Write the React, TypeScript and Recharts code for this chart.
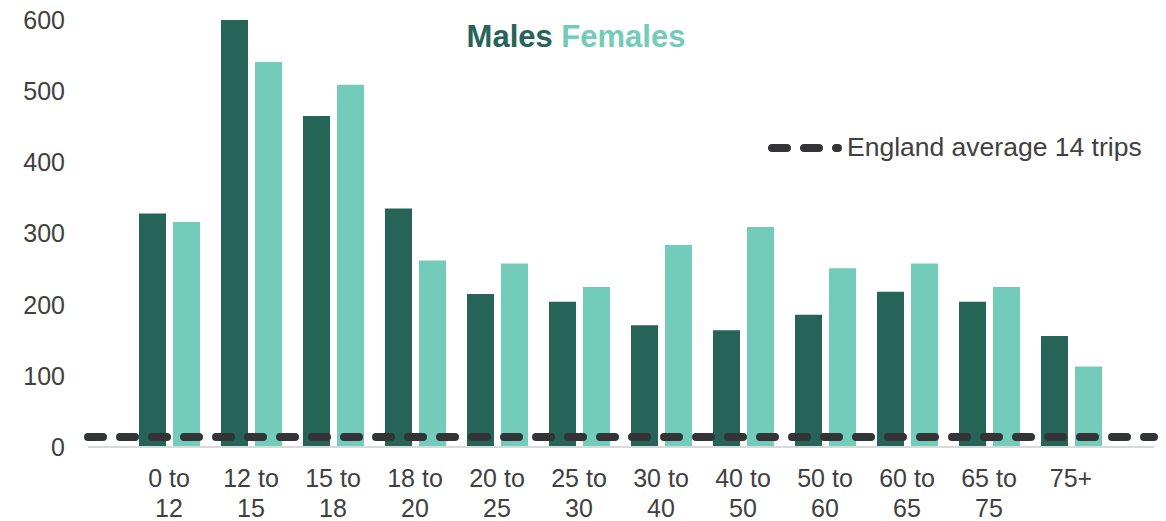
import React from "react";
import { BarChart, Bar, XAxis, YAxis, ReferenceLine } from "recharts";

const ageBands = [
  "0 to 12",
  "12 to 15",
  "15 to 18",
  "18 to 20",
  "20 to 25",
  "25 to 30",
  "30 to 40",
  "40 to 50",
  "50 to 60",
  "60 to 65",
  "65 to 75",
  "75+",
];
const males = [328, 600, 465, 335, 215, 204, 171, 164, 186, 218, 204, 156];
const females = [316, 541, 509, 262, 258, 225, 284, 309, 251, 258, 225, 113];
const englandAverage = 14;
const yTicks = [0, 100, 200, 300, 400, 500, 600];

const MALE = "#256457";
const FEMALE = "#73CBB9";
const DASH = "#323437";
const TEXT = "#404040";
const FONT = "'Liberation Sans', Arial, sans-serif";

const data = ageBands.map((band, i) => ({
  band,
  males: males[i],
  females: females[i],
}));

// split "12 to 15" into "12 to" / "15"
function AgeTick(props: any) {
  const { x, y, payload } = props;
  const parts = String(payload.value).split(" to ");
  const lines = parts.length > 1 ? [parts[0] + " to", parts[1]] : parts;
  return (
    <text x={x} y={y} textAnchor="middle" fill={TEXT} fontSize={25} fontFamily={FONT}>
      {lines.map((l, i) => (
        <tspan key={i} x={x} y={y + 32 + i * 30}>
          {l}
        </tspan>
      ))}
    </text>
  );
}

export default function App() {
  return (
    <div style={{ position: "absolute", left: 0, top: 0, width: 1166, height: 521, background: "#fff" }}>
      <BarChart
        width={1166}
        height={521}
        data={data}
        margin={{ top: 20, right: 12, left: 0, bottom: 0 }}
        barSize={27}
        barGap={7}
      >
        <XAxis
          dataKey="band"
          height={74}
          padding={{ left: 40, right: 42 }}
          axisLine={{ stroke: "#d9d9d9", strokeWidth: 2 }}
          tickLine={false}
          interval={0}
          tick={<AgeTick />}
        />
        <YAxis
          width={88}
          domain={[0, 600]}
          ticks={yTicks}
          axisLine={false}
          tickLine={false}
          tickMargin={17}
          tick={{ fill: TEXT, fontSize: 25, fontFamily: FONT }}
        />
        <Bar dataKey="males" fill={MALE} isAnimationActive={false} />
        <Bar dataKey="females" fill={FEMALE} isAnimationActive={false} />
        <ReferenceLine
          y={englandAverage}
          stroke={DASH}
          strokeWidth={8}
          strokeDasharray="15 17"
          strokeLinecap="round"
        />
      </BarChart>
      <svg
        width={1166}
        height={521}
        style={{ position: "absolute", left: 0, top: 0, pointerEvents: "none" }}
      >
        <text x={576} y={47} textAnchor="middle" fontSize={31} fontWeight="bold" fontFamily={FONT}>
          <tspan fill={MALE}>Males</tspan>
          <tspan fill={FEMALE}> Females</tspan>
        </text>
        <line
          x1={772}
          y1={148}
          x2={838}
          y2={148}
          stroke={DASH}
          strokeWidth={8}
          strokeDasharray="15 17"
          strokeLinecap="round"
        />
        <text x={847} y={156} fontSize={26.5} fill={TEXT} fontFamily={FONT}>
          England average 14 trips
        </text>
      </svg>
    </div>
  );
}
